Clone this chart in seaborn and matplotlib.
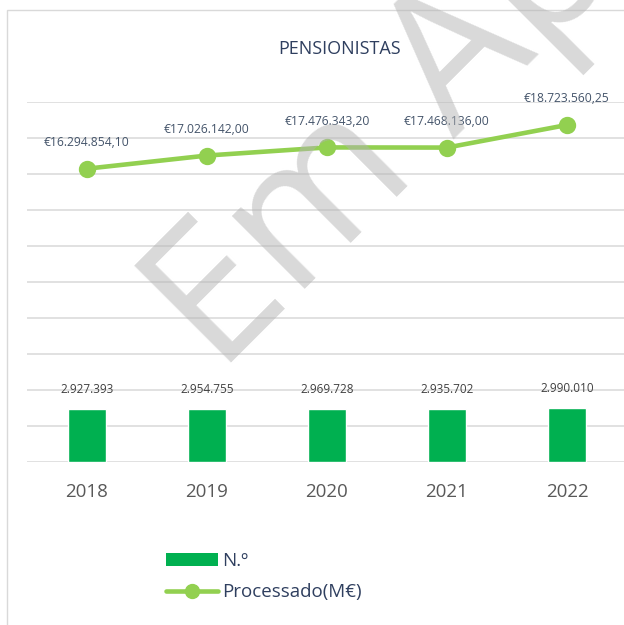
import numpy as np
import pandas as pd
import seaborn as sns
import matplotlib.pyplot as plt
from matplotlib.patches import Patch, Rectangle
from matplotlib.lines import Line2D

# data
years = ["2018", "2019", "2020", "2021", "2022"]
n_pensionistas = [2927393, 2954755, 2969728, 2935702, 2990010]
processado = [16294854.10, 17026142.00, 17476343.20, 17468136.00, 18723560.25]

BAR_GREEN = "#00B050"
LINE_GREEN = "#92D050"
GRID = "#D9D9D9"
NAVY = "#44546A"
TITLE = "#2F3F5F"


def fmt_pt(v, dec):
    s = f"{v:,.{dec}f}"
    return s.replace(",", "#").replace(".", ",").replace("#", ".")


def main():
    sns.set_theme(style="white")
    plt.rcParams["font.family"] = ["Open Sans", "DejaVu Sans"]

    df = pd.DataFrame({"ano": years, "n": n_pensionistas, "proc": processado})

    fig = plt.figure(figsize=(6.24, 6.25), dpi=100)
    fig.patch.set_facecolor("white")
    ax = fig.add_axes([27 / 624, 1 - 462 / 625, 600 / 624, 360 / 625])
    ax.set_facecolor("none")

    sns.barplot(data=df, x="ano", y="n", color=BAR_GREEN, width=0.32,
                saturation=1, ax=ax, zorder=3)
    sns.pointplot(data=df, x="ano", y="proc", color=LINE_GREEN, errorbar=None,
                  markers="o", markersize=10, linewidth=3.3, ax=ax, zorder=4)

    ax.set_xlim(-0.5, 4.5)
    ax.set_ylim(0, 20_000_000)
    ax.set_yticks(np.arange(0, 20_000_001, 2_000_000))
    ax.yaxis.grid(True, color=GRID, lw=1.1)
    ax.set_axisbelow(True)
    ax.set_yticklabels([])
    ax.tick_params(axis="y", length=0)
    ax.tick_params(axis="x", length=0, pad=15, labelsize=13.5, labelcolor="#595959")
    ax.set_xlabel("")
    ax.set_ylabel("")
    for sp in ax.spines.values():
        sp.set_visible(False)

    for i, v in enumerate(n_pensionistas):
        ax.annotate(fmt_pt(v, 0), (i, v), xytext=(0, 14), textcoords="offset points",
                    ha="center", va="center", fontsize=8.5, color="#404040", zorder=5)
    for i, v in enumerate(processado):
        ax.annotate("€" + fmt_pt(v, 2), (i, v), xytext=(0, 19), textcoords="offset points",
                    ha="center", va="center", fontsize=8.7, color=NAVY, zorder=5)

    fig.text(340 / 624, 1 - 49 / 625, "PENSIONISTAS", ha="center", va="center",
             fontsize=13, color=TITLE)

    handles = [Patch(facecolor=BAR_GREEN, edgecolor="none"),
               Line2D([], [], color=LINE_GREEN, lw=3.3, marker="o", ms=10)]
    fig.legend(handles=handles, labels=["N.º", "Processado(M€)"], loc="upper left",
               bbox_to_anchor=(166 / 624, 1 - 552 / 625), frameon=False, fontsize=13.5,
               handlelength=2.75, handletextpad=0.25, labelspacing=0.72,
               borderpad=0, borderaxespad=0, labelcolor=TITLE)

    # chart outer frame
    fig.patches.append(Rectangle((7 / 624, -0.1), 1.2, 1.1 - 10 / 625, fill=False,
                                 edgecolor=GRID, lw=1.0, transform=fig.transFigure))

    # watermark
    fig.text(218 / 624, 1 - 375 / 625, "Em Aprovação", rotation=45, rotation_mode="anchor",
             ha="left", va="baseline", fontsize=138, color="#B3B3B3", alpha=0.5, zorder=10)

    fig.savefig("out.png", dpi=100)
    plt.close(fig)


if __name__ == "__main__":
    main()
